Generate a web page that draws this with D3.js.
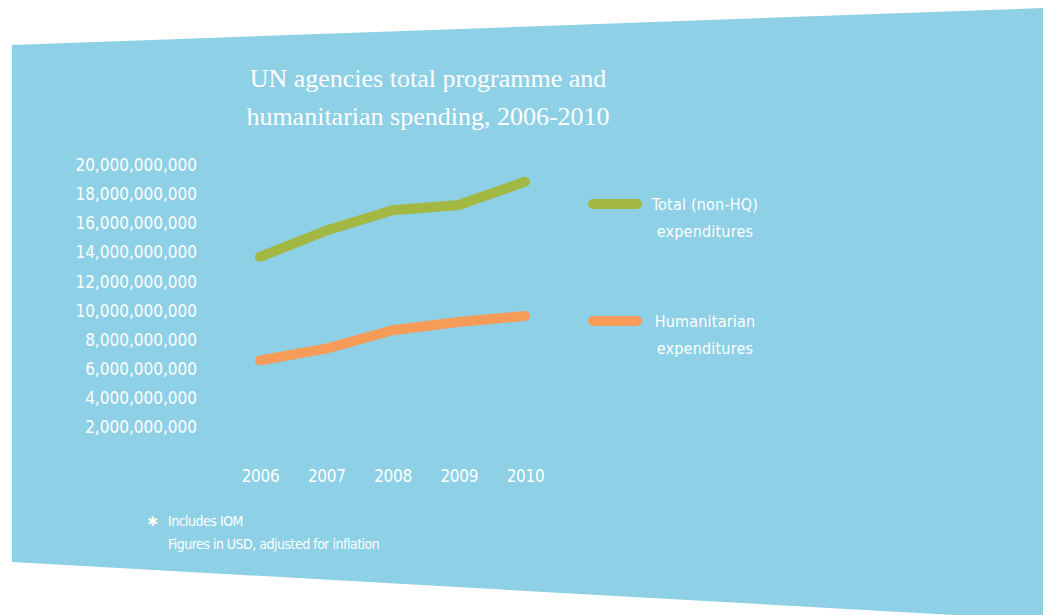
<!DOCTYPE html>
<html>
<head>
<meta charset="utf-8">
<script src="https://cdn.jsdelivr.net/npm/d3@7"></script>
<style>
  body { margin: 0; background: #fff; }
  svg text { fill: #fff; }
  .cond { font-family: "DejaVu Sans Condensed", "Liberation Sans Narrow", sans-serif; }
</style>
</head>
<body>
<svg id="chart" width="1048" height="615"></svg>
<script>
// Chart data
const years = [2006, 2007, 2008, 2009, 2010];
const totalSpend = [13.7e9, 15.5e9, 16.9e9, 17.25e9, 18.85e9];
const humanitarianSpend = [6.6e9, 7.4e9, 8.66e9, 9.23e9, 9.64e9];
const yTicks = [2e9, 4e9, 6e9, 8e9, 10e9, 12e9, 14e9, 16e9, 18e9, 20e9];
const seriesNames = [["Total (non-HQ)", "expenditures"], ["Humanitarian", "expenditures"]];
const titleLines = ["UN agencies total programme and", "humanitarian spending, 2006-2010"];
const notes = ["Includes IOM", "Figures in USD, adjusted for inflation"];

const svg = d3.select("#chart");
const colors = ["#a2b843", "#f69c58"];

// skewed blue panel behind the chart
svg.append("path")
  .attr("d", "M12,45 L1043,8 L1043,620 L12,562 Z")
  .attr("fill", "#8ed0e6");

// title
svg.append("g").selectAll("text")
  .data(titleLines)
  .join("text")
  .attr("x", 428)
  .attr("y", (d, i) => 87 + i * 38)
  .attr("text-anchor", "middle")
  .style("font-family", "'Liberation Serif', serif")
  .style("font-size", "26px")
  .text(d => d);

const x = d3.scalePoint().domain(years).range([260, 525]);
const y = d3.scaleLinear().domain([0, 20e9]).range([456.5, 165]);

// y axis labels (no axis line)
const yAxis = d3.axisLeft(y).tickValues(yTicks).tickSize(0).tickPadding(0)
  .tickFormat(d3.format(","));
const gy = svg.append("g").attr("transform", "translate(197,0)").call(yAxis);
gy.select(".domain").remove();
gy.selectAll("text")
  .attr("class", "cond")
  .attr("fill", "#fff")
  .style("font-size", "17px")
  .style("letter-spacing", "0px");

// x axis labels
const xAxis = d3.axisBottom(x).tickSize(0).tickPadding(0).tickFormat(d3.format("d"));
const gx = svg.append("g").attr("transform", "translate(0,470)").call(xAxis);
gx.select(".domain").remove();
gx.selectAll("text")
  .attr("class", "cond")
  .attr("fill", "#fff")
  .style("font-size", "17px")
  .style("letter-spacing", "-0.3px");

// lines
const line = d3.line().x((d, i) => x(years[i])).y(d => y(d));
[totalSpend, humanitarianSpend].forEach((s, i) => {
  svg.append("path")
    .datum(s)
    .attr("d", line)
    .attr("fill", "none")
    .attr("stroke", colors[i])
    .attr("stroke-width", 10)
    .attr("stroke-linecap", "round")
    .attr("stroke-linejoin", "round");
});

// legend
const legendY = [204, 321];
seriesNames.forEach((lines, i) => {
  svg.append("line")
    .attr("x1", 593).attr("x2", 637)
    .attr("y1", legendY[i]).attr("y2", legendY[i])
    .attr("stroke", colors[i])
    .attr("stroke-width", 10)
    .attr("stroke-linecap", "round");
  svg.append("g").selectAll("text")
    .data(lines)
    .join("text")
    .attr("class", "cond")
    .attr("x", 705)
    .attr("y", (d, j) => legendY[i] + 6 + j * 27)
    .attr("text-anchor", "middle")
    .style("font-size", "16px")
    .style("letter-spacing", "0.2px")
    .text(d => d);
});

// footnotes
svg.append("text")
  .attr("x", 153).attr("y", 526)
  .attr("text-anchor", "middle")
  .style("font-family", "'DejaVu Sans', sans-serif")
  .style("font-size", "13px")
  .style("font-weight", "bold")
  .text("\u2731");
svg.append("g").selectAll("text")
  .data(notes)
  .join("text")
  .attr("class", "cond")
  .attr("x", 168)
  .attr("y", (d, i) => 526 + i * 23)
  .style("font-size", "14px")
  .style("letter-spacing", "-0.5px")
  .text(d => d);
</script>
</body>
</html>
